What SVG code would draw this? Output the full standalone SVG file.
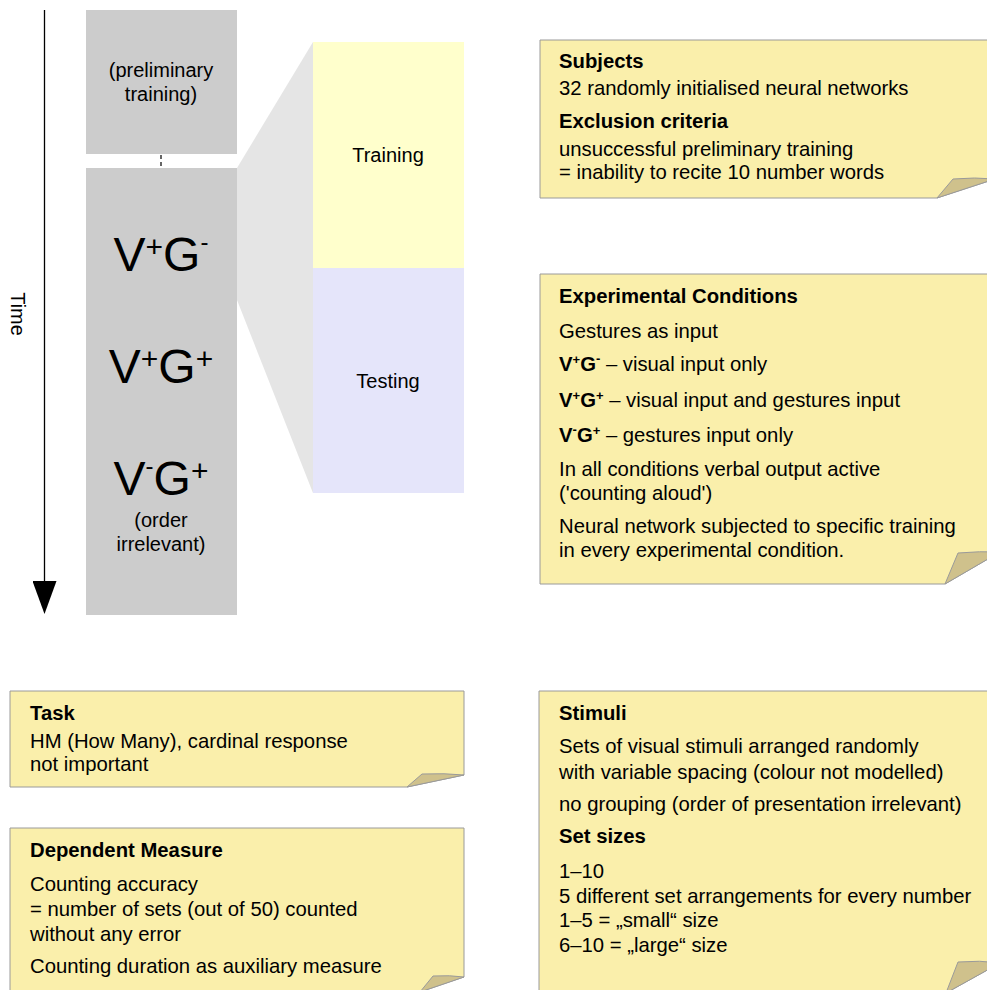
<svg xmlns="http://www.w3.org/2000/svg" width="987" height="990" viewBox="0 0 987 990">
  <defs>
    <style>
      text { font-family: "Liberation Sans", Arial, sans-serif; fill: #000; }
      .lbl { font-size: 20px; text-anchor: middle; }
      .big { font-size: 48px; text-anchor: middle; }
      .bsup { font-size: 30px; }
      .bmin { font-size: 24px; }
      .nt { font-size: 20.3px; }
      .b { font-weight: bold; }
      .sup { font-size: 13px; font-weight: bold; }
      .phase { fill: #cccccc; }
      .note { fill: #faefab; stroke: #9a9a9a; stroke-width: 1; }
      .flap { fill: #cfc18c; stroke: #9a9a9a; stroke-width: 1; }
      .axis { stroke: #000; stroke-width: 1.3; fill: none; }
      .link { stroke: #000; stroke-width: 1.2; stroke-dasharray: 4 3; fill: none; }
    </style>
    <marker id="arrowhead" markerUnits="userSpaceOnUse" markerWidth="33" markerHeight="24" refX="0" refY="12" orient="auto" viewBox="0 0 33 24">
      <path d="M0,0 L33,12 L0,24 Z" fill="#000"/>
    </marker>
  </defs>

  <!-- magnifying wedge from the main phase to its breakdown -->
  <g id="zoom-wedge">
    <polygon points="237,168 313,42 313,493 237,300" fill="#e5e5e5"/>
  </g>

  <!-- phases along the time axis -->
  <g id="prelim">
    <rect class="phase" x="86" y="10" width="151" height="144"/>
    <text class="lbl" x="161" y="77">(preliminary</text>
    <text class="lbl" x="161" y="101">training)</text>
  </g>

  <g id="main-phase">
    <rect class="phase" x="86" y="168" width="151" height="447"/>
    <text class="big" x="161" y="271">V<tspan class="bsup" dy="-14">+</tspan><tspan dy="14">G</tspan><tspan class="bmin" dy="-21">-</tspan></text>
    <text class="big" x="161" y="383">V<tspan class="bsup" dy="-14">+</tspan><tspan dy="14">G</tspan><tspan class="bsup" dy="-14">+</tspan></text>
    <text class="big" x="161" y="495">V<tspan class="bmin" dy="-21">-</tspan><tspan dy="21">G</tspan><tspan class="bsup" dy="-14">+</tspan></text>
    <text class="lbl" x="161" y="527">(order</text>
    <text class="lbl" x="161" y="551">irrelevant)</text>
  </g>

  <g id="training">
    <rect x="313" y="42" width="151" height="226" fill="#ffffcc"/>
    <text class="lbl" x="388" y="162">Training</text>
  </g>

  <g id="testing">
    <rect x="313" y="268" width="151" height="225" fill="#e5e5fa"/>
    <text class="lbl" x="388" y="388">Testing</text>
  </g>

  <g id="time-label">
    <text class="lbl" transform="translate(11,314) rotate(90)">Time</text>
  </g>

  <!-- connectors: time axis and the link between the phases -->
  <g id="connectors">
    <line class="axis" x1="44.5" y1="10" x2="44.5" y2="581" marker-end="url(#arrowhead)"/>
    <line class="link" x1="161" y1="155" x2="161" y2="168"/>
  </g>

  <!-- notes -->
  <g id="note-subjects">
    <path class="note" d="M540,40 H995 V179 L937,198 H540 Z"/>
    <path class="flap" d="M937,198 L953,179 Q975,177 995,179 Z"/>
    <text class="nt b" x="559" y="68">Subjects</text>
    <text class="nt" x="559" y="95">32 randomly initialised neural networks</text>
    <text class="nt b" x="559" y="128">Exclusion criteria</text>
    <text class="nt" x="559" y="156">unsuccessful preliminary training</text>
    <text class="nt" x="559" y="179">= inability to recite 10 number words</text>
  </g>

  <g id="note-conditions">
    <path class="note" d="M540,274 H1000 V552 L945,584 H540 Z"/>
    <path class="flap" d="M945,584 L958,553 Q980,551 1000,552 Z"/>
    <text class="nt b" x="559" y="303">Experimental Conditions</text>
    <text class="nt" x="559" y="338">Gestures as input</text>
    <text class="nt" x="559" y="371"><tspan class="b">V</tspan><tspan class="sup" dy="-7">+</tspan><tspan class="b" dy="7">G</tspan><tspan class="sup" dy="-8">-</tspan><tspan dy="8"> – visual input only</tspan></text>
    <text class="nt" x="559" y="407"><tspan class="b">V</tspan><tspan class="sup" dy="-7">+</tspan><tspan class="b" dy="7">G</tspan><tspan class="sup" dy="-7">+</tspan><tspan dy="7"> – visual input and gestures input</tspan></text>
    <text class="nt" x="559" y="442"><tspan class="b">V</tspan><tspan class="sup" dy="-8">-</tspan><tspan class="b" dy="8">G</tspan><tspan class="sup" dy="-7">+</tspan><tspan dy="7"> – gestures input only</tspan></text>
    <text class="nt" x="559" y="476">In all conditions verbal output active</text>
    <text class="nt" x="559" y="500">('counting aloud')</text>
    <text class="nt" x="559" y="533">Neural network subjected to specific training</text>
    <text class="nt" x="559" y="557">in every experimental condition.</text>
  </g>

  <g id="note-task">
    <path class="note" d="M10,691 H464 V775 L407,787 H10 Z"/>
    <path class="flap" d="M407,787 L422,774 Q445,773 464,775 Z"/>
    <text class="nt b" x="30" y="720">Task</text>
    <text class="nt" x="30" y="748">HM (How Many), cardinal response</text>
    <text class="nt" x="30" y="771">not important</text>
  </g>

  <g id="note-measure">
    <path class="note" d="M10,828 H464 V977 L420,992 H10 Z"/>
    <path class="flap" d="M420,992 L433,976 Q450,975 464,977 Z"/>
    <text class="nt b" x="30" y="857">Dependent Measure</text>
    <text class="nt" x="30" y="891">Counting accuracy</text>
    <text class="nt" x="30" y="916">= number of sets (out of 50) counted</text>
    <text class="nt" x="30" y="941">without any error</text>
    <text class="nt" x="30" y="973">Counting duration as auxiliary measure</text>
  </g>

  <g id="note-stimuli">
    <path class="note" d="M539,691 H1000 V963 L946,993 H539 Z"/>
    <path class="flap" d="M946,993 L958,962 Q980,960 1000,963 Z"/>
    <text class="nt b" x="559" y="720">Stimuli</text>
    <text class="nt" x="559" y="753">Sets of visual stimuli arranged randomly</text>
    <text class="nt" x="559" y="779">with variable spacing (colour not modelled)</text>
    <text class="nt" x="559" y="811">no grouping (order of presentation irrelevant)</text>
    <text class="nt b" x="559" y="843">Set sizes</text>
    <text class="nt" x="559" y="878">1–10</text>
    <text class="nt" x="559" y="903">5 different set arrangements for every number</text>
    <text class="nt" x="559" y="927">1–5 = „small“ size</text>
    <text class="nt" x="559" y="952">6–10 = „large“ size</text>
  </g>
</svg>
